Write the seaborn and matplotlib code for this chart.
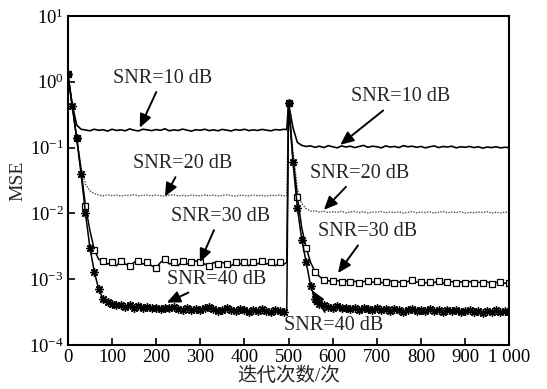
import matplotlib
matplotlib.use("Agg")
import matplotlib.pyplot as plt
import seaborn as sns
from matplotlib.ticker import NullLocator, FixedLocator, LogLocator

# iterations: 0..490, the step just before the change, then 500..1000
iterations = list(range(0, 500, 10)) + [496] + list(range(500, 1001, 10))

mse_10db = [
    1.3, 0.45, 0.22, 0.19, 0.185, 0.18, 0.19, 0.183, 0.187, 0.178,
    0.19, 0.182, 0.186, 0.18, 0.192, 0.184, 0.179, 0.19, 0.186, 0.181,
    0.188, 0.183, 0.193, 0.18, 0.186, 0.182, 0.191, 0.184, 0.178, 0.187,
    0.183, 0.19, 0.181, 0.186, 0.18, 0.189, 0.184, 0.179, 0.188, 0.183,
    0.19, 0.181, 0.186, 0.182, 0.189, 0.184, 0.18, 0.188, 0.185, 0.19, 0.187,
    0.47, 0.2, 0.12, 0.108, 0.104, 0.106, 0.101, 0.105, 0.1, 0.107,
    0.103, 0.099, 0.106, 0.102, 0.105, 0.1, 0.104, 0.108, 0.101, 0.105,
    0.103, 0.099, 0.106, 0.102, 0.104, 0.1, 0.107, 0.103, 0.105, 0.101,
    0.104, 0.099, 0.103, 0.106, 0.1, 0.104, 0.102, 0.105, 0.099, 0.103,
    0.101, 0.104, 0.1, 0.103, 0.098, 0.102, 0.1, 0.103, 0.099, 0.101, 0.1]

mse_20db = [
    1.3, 0.43, 0.14, 0.05, 0.028, 0.022, 0.02, 0.019, 0.0185, 0.0192,
    0.0186, 0.019, 0.0183, 0.0189, 0.0187, 0.0193, 0.0185, 0.0188, 0.0191, 0.0184,
    0.019, 0.0186, 0.0183, 0.0189, 0.0192, 0.0185, 0.0188, 0.0184, 0.019, 0.0187,
    0.0185, 0.0191, 0.0186, 0.0189, 0.0184, 0.0188, 0.0192, 0.0186, 0.0183, 0.0189,
    0.0187, 0.0184, 0.019, 0.0186, 0.0188, 0.0183, 0.0189, 0.0186, 0.0191, 0.0185, 0.0187,
    0.47, 0.09, 0.024, 0.014, 0.0118, 0.0108, 0.011, 0.0105, 0.0108, 0.0103,
    0.0106, 0.0104, 0.0108, 0.0102, 0.0105, 0.0107, 0.0103, 0.0106, 0.0101, 0.0105,
    0.0104, 0.0107, 0.0102, 0.0105, 0.0103, 0.0106, 0.0101, 0.0104, 0.0107, 0.0102,
    0.0105, 0.0103, 0.0106, 0.0101, 0.0104, 0.0107, 0.0102, 0.0105, 0.0103, 0.0106,
    0.0101, 0.0104, 0.0102, 0.0105, 0.0103, 0.0106, 0.0101, 0.0104, 0.0102, 0.0105, 0.0103]

mse_30db = [
    1.3, 0.43, 0.14, 0.045, 0.013, 0.0055, 0.0028, 0.002, 0.0019, 0.0017,
    0.0018, 0.0016, 0.0019, 0.0017, 0.0016, 0.0018, 0.0019, 0.0017, 0.0018, 0.0016,
    0.0015, 0.0018, 0.002, 0.0017, 0.0018, 0.0016, 0.0019, 0.0017, 0.0018, 0.0019,
    0.0018, 0.0017, 0.0016, 0.0018, 0.0017, 0.0018, 0.0017, 0.0016, 0.0018, 0.0017,
    0.0018, 0.0016, 0.0018, 0.0017, 0.0019, 0.0017, 0.0018, 0.0016, 0.0018, 0.0017, 0.0018,
    0.47, 0.07, 0.018, 0.006, 0.003, 0.0018, 0.0013, 0.0011, 0.00098, 0.00095,
    0.00093, 0.00096, 0.00091, 0.00094, 0.0009, 0.00093, 0.00089, 0.00092, 0.00095, 0.0009,
    0.00093, 0.00088, 0.00092, 0.00094, 0.00089, 0.00091, 0.00087, 0.00092, 0.00099, 0.0009,
    0.00092, 0.00088, 0.00091, 0.00089, 0.00093, 0.00087, 0.0009, 0.00092, 0.00088, 0.00091,
    0.00089, 0.00092, 0.00087, 0.0009, 0.00088, 0.00091, 0.00086, 0.00089, 0.00091, 0.00087, 0.00088]

mse_40db = [
    1.3, 0.43, 0.14, 0.04, 0.01, 0.003, 0.0013, 0.0007, 0.0005, 0.00045,
    0.00042, 0.0004, 0.00041, 0.00038, 0.0004, 0.00037, 0.00039, 0.00036, 0.00038, 0.00036,
    0.00037, 0.00035, 0.00037, 0.00036, 0.00038, 0.00035, 0.00034, 0.00036, 0.00034, 0.00035,
    0.00034, 0.00036, 0.00038, 0.00035, 0.00033, 0.00034, 0.00036, 0.00034, 0.00033, 0.00035,
    0.00034, 0.00032, 0.00034, 0.00033, 0.00035, 0.00033, 0.00032, 0.00034, 0.00033, 0.00032, 0.00033,
    0.47, 0.06, 0.012, 0.004, 0.0018, 0.0008, 0.0005, 0.00042, 0.0004, 0.00038,
    0.00037, 0.00039, 0.00036, 0.00037, 0.00035, 0.00036, 0.00034, 0.00036, 0.00035, 0.00034,
    0.00036, 0.00034, 0.00035, 0.00033, 0.00035, 0.00034, 0.00032, 0.00034, 0.00035, 0.00033,
    0.00034, 0.00033, 0.00035, 0.00033, 0.00034, 0.00032, 0.00034, 0.00033, 0.00034, 0.00032,
    0.00033, 0.00034, 0.00032, 0.00033, 0.00031, 0.00033, 0.00032, 0.00034, 0.00032, 0.00033, 0.00032]

xtick_values = list(range(0, 1001, 100))
xtick_labels = ["0", "100", "200", "300", "400", "500", "600", "700", "800", "900", "1 000"]

# (label, text position, arrow tip) in data coordinates
notes = [
    ("SNR=10 dB", (215, 1.14), (163, 0.2)),
    ("SNR=10 dB", (753, 0.59), (617, 0.11)),
    ("SNR=20 dB", (261, 0.058), (220, 0.018)),
    ("SNR=20 dB", (660, 0.041), (580, 0.0113)),
    ("SNR=30 dB", (345, 0.0091), (299, 0.0018)),
    ("SNR=40 dB", (338, 0.001), (224, 0.00044)),
    ("SNR=30 dB", (680, 0.0053), (612, 0.00124)),
    ("SNR=40 dB", (601, 0.000195), (553, 0.00068)),
]

sns.set_theme(style="ticks")
plt.rcParams["font.family"] = ["Liberation Serif", "Noto Sans CJK SC"]
plt.rcParams["mathtext.fontset"] = "custom"
plt.rcParams["mathtext.rm"] = "Liberation Serif"
plt.rcParams["mathtext.it"] = "Liberation Serif:italic"

fig, ax = plt.subplots(figsize=(5.47, 3.89), dpi=100)
fig.subplots_adjust(left=0.124, right=0.931, top=0.959, bottom=0.113)

every20 = [i for i, v in enumerate(iterations) if v % 20 == 0]
every10 = [i for i, v in enumerate(iterations) if v % 10 == 0]

sns.lineplot(x=iterations, y=mse_10db, ax=ax, color="black", lw=1.2,
             estimator=None, sort=False)
sns.lineplot(x=iterations, y=mse_20db, ax=ax, color="0.3", lw=1.0,
             linestyle=(0, (1, 1)), estimator=None, sort=False)
sns.lineplot(x=iterations, y=mse_30db, ax=ax, color="black", lw=1.1,
             marker="s", markersize=5, markerfacecolor="white",
             markeredgecolor="black", markeredgewidth=0.9,
             markevery=every20, estimator=None, sort=False)
sns.lineplot(x=iterations, y=mse_40db, ax=ax, color="black", lw=1.1,
             marker=(8, 2, 0), markersize=6, markeredgecolor="black",
             markeredgewidth=1.0, markevery=every10,
             estimator=None, sort=False)

ax.set_yscale("log")
ax.set_ylim(1e-4, 10)
ax.set_xlim(0, 1000)
ax.yaxis.set_major_locator(LogLocator(base=10, numticks=10))
ax.yaxis.set_minor_locator(NullLocator())
ax.xaxis.set_major_locator(FixedLocator(xtick_values))
ax.set_xticklabels(xtick_labels)

ax.tick_params(direction="in", length=5, width=1.2, labelsize=13.5,
               colors="black", pad=3)
for s in ax.spines.values():
    s.set_linewidth(1.5)
    s.set_color("black")

ax.set_xlabel("迭代次数/次", fontsize=14, labelpad=0)
ax.set_ylabel("MSE", fontsize=14, labelpad=2)

for label, txt, tip in notes:
    ax.annotate(label, xy=tip, xytext=txt, ha="center", va="center",
                fontsize=14.5,
                arrowprops=dict(arrowstyle="-|>,head_length=0.5,head_width=0.22",
                                color="black", lw=1.4,
                                mutation_scale=16, shrinkA=1, shrinkB=0))

fig.savefig("out.png", dpi=100)
